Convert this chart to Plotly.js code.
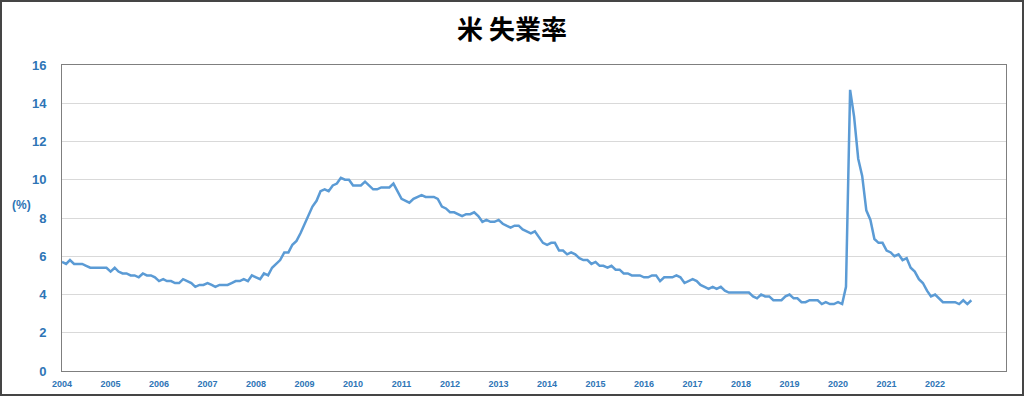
<!DOCTYPE html>
<html>
<head>
<meta charset="utf-8">
<script src="https://cdn.plot.ly/plotly-3.0.1.min.js"></script>
<style>
  html, body { margin: 0; padding: 0; background: #fff; }
  #wrap { position: relative; width: 1024px; height: 396px; }
  #chart { position: absolute; left: 0; top: 0; width: 1024px; height: 396px; }
  #frame { position: absolute; left: 0; top: 0; width: 1024px; height: 396px; box-sizing: border-box; border: 2px solid #454545; pointer-events: none; }
</style>
</head>
<body>
<div id="wrap"><div id="chart"></div><div id="frame"></div></div>
<script>
// Monthly US unemployment rate (%), Jan 2004 - Oct 2022
const startYear = 2004;
const rate2004 = [5.7, 5.6, 5.8, 5.6, 5.6, 5.6, 5.5, 5.4, 5.4, 5.4, 5.4, 5.4];
const rate2005 = [5.2, 5.4, 5.2, 5.1, 5.1, 5.0, 5.0, 4.9, 5.1, 5.0, 5.0, 4.9];
const rate2006 = [4.7, 4.8, 4.7, 4.7, 4.6, 4.6, 4.8, 4.7, 4.6, 4.4, 4.5, 4.5];
const rate2007 = [4.6, 4.5, 4.4, 4.5, 4.5, 4.5, 4.6, 4.7, 4.7, 4.8, 4.7, 5.0];
const rate2008 = [4.9, 4.8, 5.1, 5.0, 5.4, 5.6, 5.8, 6.2, 6.2, 6.6, 6.8, 7.2];
const rate2009 = [7.7, 8.2, 8.6, 8.9, 9.4, 9.5, 9.4, 9.7, 9.8, 10.1, 10.0, 10.0];
const rate2010 = [9.7, 9.7, 9.7, 9.9, 9.7, 9.5, 9.5, 9.6, 9.6, 9.6, 9.8, 9.4];
const rate2011 = [9.0, 8.9, 8.8, 9.0, 9.1, 9.2, 9.1, 9.1, 9.1, 9.0, 8.6, 8.5];
const rate2012 = [8.3, 8.3, 8.2, 8.1, 8.2, 8.2, 8.3, 8.1, 7.8, 7.9, 7.8, 7.8];
const rate2013 = [7.9, 7.7, 7.6, 7.5, 7.6, 7.6, 7.4, 7.3, 7.2, 7.3, 7.0, 6.7];
const rate2014 = [6.6, 6.7, 6.7, 6.3, 6.3, 6.1, 6.2, 6.1, 5.9, 5.8, 5.8, 5.6];
const rate2015 = [5.7, 5.5, 5.5, 5.4, 5.5, 5.3, 5.3, 5.1, 5.1, 5.0, 5.0, 5.0];
const rate2016 = [4.9, 4.9, 5.0, 5.0, 4.7, 4.9, 4.9, 4.9, 5.0, 4.9, 4.6, 4.7];
const rate2017 = [4.8, 4.7, 4.5, 4.4, 4.3, 4.4, 4.3, 4.4, 4.2, 4.1, 4.1, 4.1];
const rate2018 = [4.1, 4.1, 4.1, 3.9, 3.8, 4.0, 3.9, 3.9, 3.7, 3.7, 3.7, 3.9];
const rate2019 = [4.0, 3.8, 3.8, 3.6, 3.6, 3.7, 3.7, 3.7, 3.5, 3.6, 3.5, 3.5];
const rate2020 = [3.6, 3.5, 4.4, 14.7, 13.3, 11.1, 10.2, 8.4, 7.9, 6.9, 6.7, 6.7];
const rate2021 = [6.3, 6.2, 6.0, 6.1, 5.8, 5.9, 5.4, 5.2, 4.8, 4.6, 4.2, 3.9];
const rate2022 = [4.0, 3.8, 3.6, 3.6, 3.6, 3.6, 3.5, 3.7, 3.5, 3.7];

const yearTickLabels = ['2004','2005','2006','2007','2008','2009','2010','2011','2012','2013',
                        '2014','2015','2016','2017','2018','2019','2020','2021','2022'];
const yTickVals = [0, 2, 4, 6, 8, 10, 12, 14, 16];

const byYear = [rate2004, rate2005, rate2006, rate2007, rate2008, rate2009, rate2010, rate2011,
                rate2012, rate2013, rate2014, rate2015, rate2016, rate2017, rate2018, rate2019,
                rate2020, rate2021, rate2022];
const xs = [], ys = [];
byYear.forEach((arr, yi) => {
  arr.forEach((v, mi) => {
    const mm = String(mi + 1).padStart(2, '0');
    xs.push((startYear + yi) + '-' + mm + '-01');
    ys.push(v);
  });
});
const tickDates = yearTickLabels.map(y => y + '-01-01');

const blue = '#2E75B6';
const trace = {
  x: xs, y: ys, type: 'scatter', mode: 'lines',
  line: { color: '#5B9BD5', width: 2.5 },
  hoverinfo: 'x+y'
};

const layout = {
  width: 1024, height: 396,
  margin: { l: 62, r: 18, t: 65, b: 25 },
  paper_bgcolor: '#ffffff', plot_bgcolor: '#ffffff',
  showlegend: false,
  title: {
    text: '<b>米 失業率</b>',
    font: { family: '"Noto Sans CJK JP", "Noto Sans", sans-serif', size: 26, color: '#000000' },
    x: 0.5, xanchor: 'center', xref: 'container', y: 0.925, yanchor: 'middle', yref: 'container'
  },
  xaxis: {
    type: 'date',
    range: ['2004-01-01', '2023-06-19'],
    tickmode: 'array', tickvals: tickDates, ticktext: yearTickLabels,
    tickfont: { family: '"Liberation Sans", Arial, sans-serif', size: 9, color: blue, weight: 'bold' },
    showgrid: false, zeroline: false,
    showline: true, linecolor: '#7f7f7f', linewidth: 1, mirror: true,
    ticks: 'outside', ticklen: 4, tickcolor: 'rgba(0,0,0,0)'
  },
  yaxis: {
    range: [0, 16],
    tickmode: 'array', tickvals: yTickVals,
    tickfont: { family: '"Liberation Sans", Arial, sans-serif', size: 13, color: blue, weight: 'bold' },
    showgrid: true, gridcolor: '#d9d9d9', gridwidth: 1,
    zeroline: false,
    showline: true, linecolor: '#7f7f7f', linewidth: 1, mirror: true,
    ticks: 'outside', ticklen: 12, tickcolor: 'rgba(0,0,0,0)'
  },
  annotations: [{
    text: '<b>(%)</b>', xref: 'paper', yref: 'paper',
    x: -0.031, y: 0.543, xanchor: 'right', yanchor: 'middle', showarrow: false,
    font: { family: '"Liberation Sans", Arial, sans-serif', size: 12, color: blue }
  }]
};

Plotly.newPlot('chart', [trace], layout, { displayModeBar: false, staticPlot: true });
</script>
</body>
</html>
